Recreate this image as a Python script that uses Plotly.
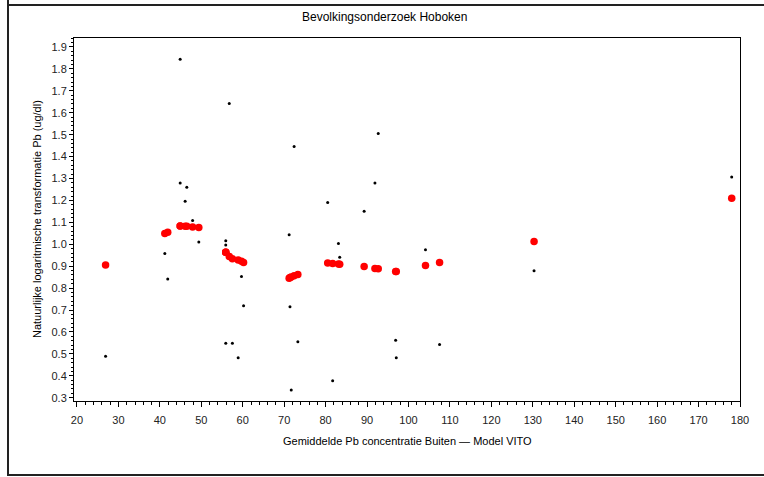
import plotly.graph_objects as go

# Data
x_vals = [26.9, 41.2, 41.9, 44.9, 44.9, 46.1, 46.5, 47.9, 49.4,
          55.9, 55.9, 55.9, 56.75, 57.5, 58.9, 59.7, 60.2,
          71.2, 71.4, 71.7, 72.4, 73.3,
          80.5, 81.7, 83.1, 83.4, 89.3, 91.9, 92.7, 96.9, 97.05,
          104.1, 107.5, 130.3, 178.0]
observed = [0.489, 0.958, 0.841, 1.844, 1.280, 1.196, 1.260, 1.109, 1.010,
            1.016, 0.997, 0.549, 1.642, 0.549, 0.482, 0.853, 0.719,
            1.043, 0.715, 0.335, 1.446, 0.555,
            1.190, 0.377, 1.004, 0.941, 1.151, 1.280, 1.505, 0.562, 0.482,
            0.975, 0.543, 0.879, 1.307]
predicted = [0.905, 1.049, 1.055, 1.083, 1.083, 1.082, 1.082, 1.079, 1.077,
             0.964, 0.964, 0.964, 0.944, 0.934, 0.928, 0.922, 0.917,
             0.845, 0.848, 0.851, 0.856, 0.862,
             0.914, 0.912, 0.910, 0.909, 0.899, 0.890, 0.888, 0.876, 0.876,
             0.903, 0.917, 1.013, 1.210]

x_ticks = [20, 30, 40, 50, 60, 70, 80, 90, 100, 110, 120, 130, 140, 150, 160, 170, 180]
y_ticks = [0.3, 0.4, 0.5, 0.6, 0.7, 0.8, 0.9, 1.0, 1.1, 1.2, 1.3, 1.4, 1.5, 1.6, 1.7, 1.8, 1.9]
y_tick_labels = ["0.3", "0.4", "0.5", "0.6", "0.7", "0.8", "0.9", "1.0", "1.1",
                 "1.2", "1.3", "1.4", "1.5", "1.6", "1.7", "1.8", "1.9"]

title_text = "Bevolkingsonderzoek Hoboken"
x_title = "Gemiddelde Pb concentratie Buiten \u2014 Model VITO"
y_title = "Natuurlijke logaritmische transformatie Pb (ug/dl)"

FONT = "Liberation Sans, Arial, sans-serif"

fig = go.Figure()
fig.add_trace(go.Scatter(x=x_vals, y=predicted, mode="markers",
                         marker=dict(color="#ff0000", size=7.5, line=dict(width=0)),
                         showlegend=False, hoverinfo="x+y"))
fig.add_trace(go.Scatter(x=x_vals, y=observed, mode="markers",
                         marker=dict(color="black", size=3, line=dict(width=0)),
                         showlegend=False, hoverinfo="x+y"))

W, H = 764, 477
L, R, T, B = 74, 740, 38, 401
pw, ph = R - L, B - T

def px(x):
    return (x - L) / pw

def py(y):
    return (B - y) / ph

fig.update_layout(
    width=W, height=H,
    margin=dict(l=L, r=W - R, t=T, b=H - B, pad=0),
    paper_bgcolor="white", plot_bgcolor="white",
    font=dict(family=FONT, size=11, color="#111"),
    xaxis=dict(range=[19.28, 180.0], tickmode="array", tickvals=x_ticks,
               ticks="outside", ticklen=5, tickwidth=1, tickcolor="black",
               showline=True, linecolor="black", linewidth=1, mirror=True,
               showgrid=False, zeroline=False, ticklabelstandoff=4,
               tickfont=dict(size=11, color="#222"),
               minor=dict(dtick=2, tick0=20, ticks="outside", ticklen=3,
                          tickcolor="black", showgrid=False)),
    yaxis=dict(range=[0.285, 1.941], tickmode="array", tickvals=y_ticks,
               ticktext=y_tick_labels,
               ticks="outside", ticklen=4, tickwidth=1, tickcolor="black",
               showline=True, linecolor="black", linewidth=1, mirror=True,
               showgrid=False, zeroline=False,
               tickfont=dict(size=11, color="#222"),
               minor=dict(dtick=0.02, tick0=0.3, ticks="outside", ticklen=2,
                          tickcolor="black", showgrid=False)),
    annotations=[
        dict(text=title_text, xref="paper", yref="paper", x=px(384), y=py(17),
             showarrow=False, xanchor="center", yanchor="middle",
             font=dict(size=12, color="black", family=FONT)),
        dict(text=x_title, xref="paper", yref="paper", x=px(407), y=py(441),
             showarrow=False, xanchor="center", yanchor="middle",
             font=dict(size=11, color="black", family=FONT)),
        dict(text=y_title, xref="paper", yref="paper", x=px(37), y=py(219),
             showarrow=False, xanchor="center", yanchor="middle", textangle=-90,
             font=dict(size=11, color="black", family=FONT)),
    ],
    shapes=[
        dict(type="line", xref="paper", yref="paper", x0=px(8), x1=px(764),
             y0=py(5), y1=py(5), line=dict(color="#222", width=2)),
        dict(type="line", xref="paper", yref="paper", x0=px(8), x1=px(8),
             y0=py(0), y1=py(476), line=dict(color="#222", width=2)),
        dict(type="line", xref="paper", yref="paper", x0=px(8), x1=px(764),
             y0=py(475), y1=py(475), line=dict(color="#222", width=2)),
    ],
)

fig.write_html("out.html")
